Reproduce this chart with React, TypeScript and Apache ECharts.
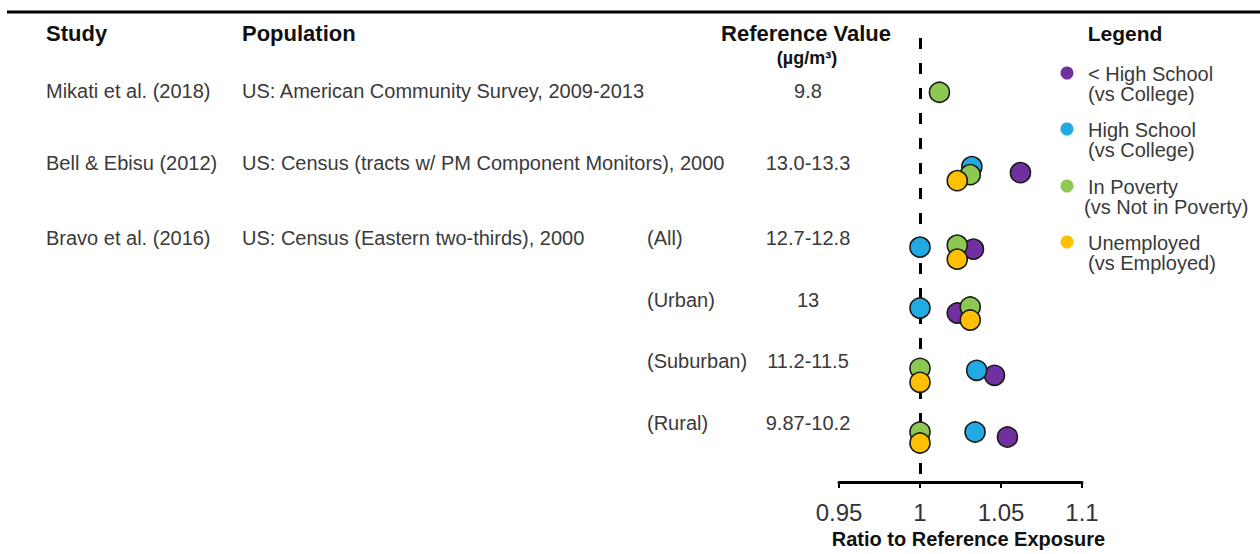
import React, { useEffect, useRef } from "react";
import * as echarts from "echarts";

// ---- data ----
const studies = ["Mikati et al. (2018)", "Bell & Ebisu (2012)", "Bravo et al. (2016)"];
const populations = [
  "US: American Community Survey, 2009-2013",
  "US: Census (tracts w/ PM Component Monitors), 2000",
  "US: Census (Eastern two-thirds), 2000",
];
const subgroups = ["", "", "(All)", "(Urban)", "(Suburban)", "(Rural)"];
const refValues = ["9.8", "13.0-13.3", "12.7-12.8", "13", "11.2-11.5", "9.87-10.2"];
// vertical position of each row (row units)
const rowPos = [0.88, 2.2, 3.44, 4.46, 5.47, 6.47];

const seriesNames = [
  "< High School (vs College)",
  "High School (vs College)",
  "In Poverty (vs Not in Poverty)",
  "Unemployed (vs Employed)",
];
const legendLine1 = ["< High School", "High School", "In Poverty", "Unemployed"];
const legendLine2 = ["(vs College)", "(vs College)", "(vs Not in Poverty)", "(vs Employed)"];

const lessHighSchool = [null, 1.062, 1.033, 1.023, 1.046, 1.054];
const highSchool = [null, 1.032, 1.0, 1.0, 1.035, 1.034];
const inPoverty = [1.012, 1.031, 1.023, 1.031, 1.0, 1.0];
const unemployed = [null, 1.023, 1.023, 1.031, 1.0, 1.0];

const xTicks = [0.95, 1, 1.05, 1.1];

// ---- style (visual dodge of overlapping markers, px) ----
const dodges = [
  [0, -1, -1, 0, 0, 0],
  [0, -7, -3, -5, -5, -5],
  [0, 1, -5, -6, -7, -5],
  [0, 7, 9, 7, 7, 6],
];
const colors = ["#7030A0", "#22AAE2", "#8DC852", "#FFC000"];
const FONT = '"Liberation Sans", Arial, sans-serif';

export default function App() {
  const ref = useRef<HTMLDivElement>(null);
  useEffect(() => {
    if (!ref.current) return;
    const chart = echarts.init(ref.current, null, { renderer: "svg" });
    const allValues = [lessHighSchool, highSchool, inPoverty, unemployed];

    const series: any[] = allValues.map((vals, si) => ({
      type: "scatter",
      name: seriesNames[si],
      symbol: "circle",
      symbolSize: 20,
      z: 3 + si,
      itemStyle: { color: colors[si], borderColor: "#1a1a1a", borderWidth: 1.6, opacity: 1 },
      data: vals
        .map((v, i) =>
          v == null ? null : { value: [v, rowPos[i]], symbolOffset: [0, dodges[si][i]] }
        )
        .filter((d) => d != null),
    }));
    series[0].markLine = {
      silent: true,
      symbol: "none",
      label: { show: false },
      lineStyle: { color: "#000", width: 3, type: [11, 14] },
      data: [{ xAxis: 1 }],
      z: 1,
    };

    const text = (t: string, x: number, y: number, size: number, opts: any = {}) => ({
      type: "text",
      x,
      y,
      style: {
        text: t,
        font: `${opts.bold ? "bold " : ""}${size}px ${FONT}`,
        fill: opts.fill || "#3a3a3a",
        align: opts.align || "left",
        textAlign: opts.align || "left",
        verticalAlign: "middle",
        textVerticalAlign: "middle",
      },
    });

    const rowY = [91, 163, 238, 300, 361, 423];
    const graphics: any[] = [
      { type: "line", shape: { x1: 7, y1: 12, x2: 1260, y2: 12 }, style: { stroke: "#000", lineWidth: 3 } },
      text("Study", 46, 33, 22, { bold: true, fill: "#111" }),
      text("Population", 242, 33, 22, { bold: true, fill: "#111" }),
      text("Reference Value", 806, 33, 22, { bold: true, fill: "#111", align: "center" }),
      text("(µg/m³)", 807, 58, 18, { bold: true, fill: "#111", align: "center" }),
      text("Legend", 1125, 33, 21, { bold: true, fill: "#111", align: "center" }),
    ];
    const studyRows = [0, 1, 2];
    studyRows.forEach((r, i) => {
      graphics.push(text(studies[i], 46, rowY[r], 20));
      graphics.push(text(populations[i], 242, rowY[r], 20));
    });
    subgroups.forEach((s, i) => {
      if (s) graphics.push(text(s, 647, rowY[i], 20));
      graphics.push(text(refValues[i], 808, rowY[i], 20, { align: "center" }));
    });
    const legY = [74, 130, 187, 243];
    legendLine1.forEach((l, i) => {
      graphics.push({
        type: "circle",
        shape: { cx: 1067, cy: legY[i] - 1, r: 6.5 },
        style: { fill: colors[i] },
      });
      graphics.push(text(l, 1088, legY[i], 20));
      graphics.push(text(legendLine2[i], i === 2 ? 1084 : 1088, legY[i] + 20, 20));
    });

    chart.setOption({
      animation: false,
      backgroundColor: "#fff",
      grid: { left: 839, right: 178, top: 38, bottom: 72 },
      xAxis: {
        type: "value",
        min: xTicks[0],
        max: xTicks[xTicks.length - 1],
        interval: 0.05,
        splitLine: { show: false },
        axisLine: { show: true, onZero: false, lineStyle: { color: "#000", width: 3 } },
        axisTick: { show: true, length: 6, lineStyle: { color: "#000", width: 2 } },
        axisLabel: {
          fontSize: 24,
          color: "#333",
          fontFamily: FONT,
          margin: 18,
          formatter: (v: number) => String(parseFloat(v.toFixed(2))),
        },
        name: "Ratio to Reference Exposure",
        nameLocation: "middle",
        nameGap: 45,
        nameTextStyle: { fontSize: 20, fontWeight: "bold", color: "#111", fontFamily: FONT, padding: [0, 0, 0, 16] },
      },
      yAxis: { type: "value", inverse: true, min: 0, max: 7.2, show: false },
      series,
      graphic: { elements: graphics },
    });
    return () => chart.dispose();
  }, []);
  return (
    <div
      ref={ref}
      style={{ position: "absolute", left: 0, top: 0, width: 1260, height: 554, background: "#fff" }}
    />
  );
}
